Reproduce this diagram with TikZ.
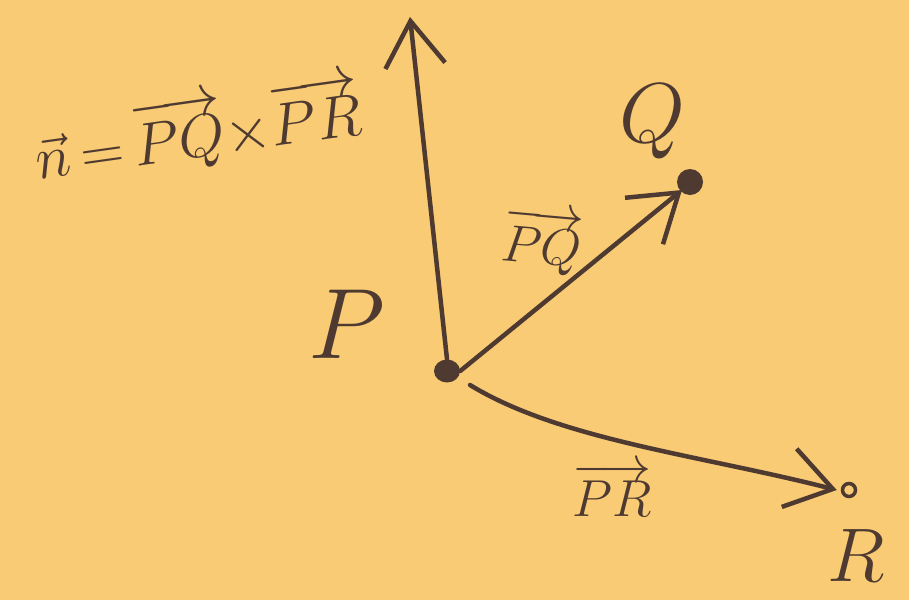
\RequirePackage{fix-cm}
\documentclass[tikz,border=0pt]{standalone}
\usetikzlibrary{arrows.meta,shapes.geometric}
\definecolor{paper}{HTML}{F8CB74}
\definecolor{ink}{HTML}{4E3A31}
\newcommand{\fsz}[1]{\fontsize{#1}{#1}\selectfont}
\begin{document}
\begin{tikzpicture}[x=1pt,y=-1pt,
  inkline/.style={draw=ink,line width=4.5pt,line cap=round},
  barb/.style={-{Straight Barb[length=45pt,width=60pt,line width=4.5pt]}},
  dot/.style={fill=ink,inner sep=0pt},
  lbl/.style={text=ink,inner sep=0pt}]
\fill[paper] (0,0) rectangle (909,600);
\useasboundingbox (0,0) rectangle (909,600);
% points
\node[dot,ellipse,minimum width=26pt,minimum height=23pt] (P) at (447,371) {};
\node[dot,circle,minimum size=26pt] (Q) at (690,182) {};
\node[circle,draw=ink,line width=3.5pt,minimum size=13pt,inner sep=0pt] (R) at (849,490) {};
\coordinate (top) at (410,17);
% arrows
\draw[inkline,barb] (P.north) -- (top);
\draw[inkline,barb] (P.east) -- ([shift={(-8,8)}]Q.center);
\draw[inkline,barb] (470,385) .. controls (560,440) and (700,455) .. ([xshift=-4pt]R.west);
% labels
\node[lbl,font=\fsz{60},rotate=8] (n) at (198,132) {$\vec{n}\mkern-2mu=\mkern-2mu\overrightarrow{PQ}\mkern-4mu\times\mkern-4mu\overrightarrow{PR}$};
\node[lbl,font=\fsz{85}] (lQ) at (652,122) {$Q$};
\node[lbl,font=\fsz{100}] (lP) at (347,324) {$P$};
\node[lbl,font=\fsz{52},rotate=-5] (lPQ) at (542,242) {$\overrightarrow{PQ}$};
\node[lbl,font=\fsz{52}] (lPR) at (612,490) {$\overrightarrow{PR}$};
\node[lbl,font=\fsz{76}] (lR) at (856,556) {$R$};
\end{tikzpicture}
\end{document}
